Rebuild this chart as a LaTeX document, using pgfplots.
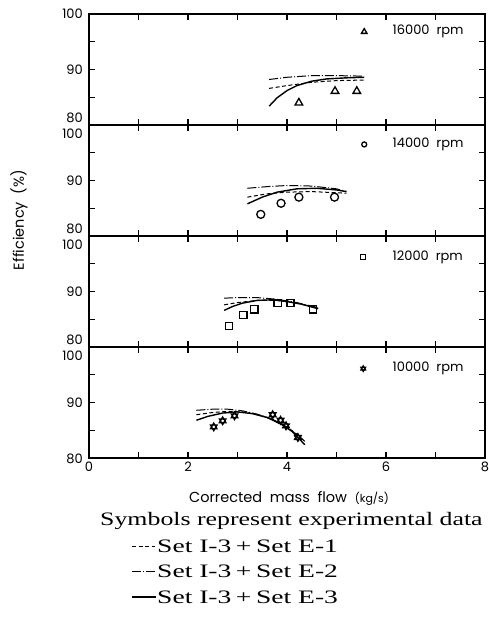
\documentclass[border=0pt]{standalone}
\usepackage{fontspec}
\setmainfont{Liberation Serif}
\newfontfamily\axfont{Poppins}
\usepackage{graphicx}
\usepackage{pgfplots}
\pgfplotsset{compat=1.18}
\pgfplotsset{
  panel/.style={
    scale only axis, width=396pt, height=111pt, anchor=north west,
    xmin=0, xmax=8, ymin=80, ymax=100,
    line width=1.8pt,
    axis line style={line width=1.8pt},
    xtick={0,2,4,6,8}, minor xtick={1,3,5,7},
    ytick={80,90,100}, minor ytick={85,95},
    tick style={line width=1.1pt, black},
    major tick length=6pt, minor tick length=6pt, tick align=inside,
    tick label style={font=\axfont\fontsize{13}{13}\selectfont},
    /pgf/number format/assume math mode=true,
    yticklabel style={anchor=base east, yshift=-4.6pt, xshift=-2pt},
    clip=false,
  },
}
\tikzset{
  sE1/.style={black, line width=1pt, dash pattern=on 4pt off 2.5pt},
  sE2/.style={black, line width=1pt, dash pattern=on 9pt off 2pt on 1pt off 2pt},
  sE3/.style={black, line width=1.4pt},
  rpm/.style={anchor=west, font=\axfont\fontsize{13}{13}\selectfont},
  mk/.style={line width=1.3pt, solid},
}
\begin{document}
\begin{tikzpicture}
\path[use as bounding box] (0,0) rectangle (489pt,-633pt);

% ---------- 16000 rpm ----------
\begin{axis}[panel, at={(89pt,-14pt)}, xticklabels={},
  yticklabels={\raisebox{7.5pt}{80},90,100}]
\addplot[sE1] coordinates {(3.64,86.6)(4.0,87.1)(4.5,87.7)(5.0,88.0)(5.56,88.1)};
\addplot[sE2] coordinates {(3.64,88.2)(4.0,88.6)(4.5,88.9)(5.0,88.9)(5.56,88.8)};
\addplot[sE3] coordinates {(3.64,83.4)(3.8,84.9)(4.0,86.2)(4.2,87.1)(4.5,87.9)(4.8,88.3)(5.2,88.5)(5.56,88.6)};
\addplot[only marks, mark=triangle, mark size=4.4pt, mark options={mk}] coordinates {(4.24,84.0)(4.97,86.1)(5.41,86.1)};
\addplot[only marks, mark=triangle, mark size=3.2pt, mark options={mk}] coordinates {(5.56,96.8)};
\node[rpm] at (axis cs:6.05,96.8) {16000\ \ rpm};
\end{axis}

% ---------- 14000 rpm ----------
\begin{axis}[panel, at={(89pt,-125pt)}, xticklabels={},
  yticklabels={\raisebox{7.5pt}{80},90,\raisebox{-8.5pt}{100}}]
\addplot[sE1] coordinates {(3.2,87.0)(3.6,87.6)(4.0,87.9)(4.5,88.0)(5.0,87.8)(5.2,87.7)};
\addplot[sE2] coordinates {(3.2,88.6)(3.6,88.9)(4.0,89.1)(4.5,89.0)(5.0,88.5)(5.2,88.0)};
\addplot[sE3] coordinates {(3.2,85.8)(3.5,87.0)(3.8,87.9)(4.2,88.5)(4.6,88.6)(5.0,88.3)(5.2,88.0)};
\addplot[only marks, mark=o, mark size=4pt, mark options={mk}] coordinates {(3.47,83.9)(3.88,85.9)(4.24,87.0)(4.96,87.0)};
\addplot[only marks, mark=o, mark size=2.5pt, mark options={mk}] coordinates {(5.56,96.5)};
\node[rpm] at (axis cs:6.05,96.5) {14000\ \ rpm};
\end{axis}

% ---------- 12000 rpm ----------
\begin{axis}[panel, at={(89pt,-236pt)}, xticklabels={},
  yticklabels={\raisebox{7.5pt}{80},90,\raisebox{-8.5pt}{100}}]
\addplot[sE1] coordinates {(2.73,87.6)(3.0,88.0)(3.4,88.4)(3.8,88.4)(4.2,87.9)(4.63,87.0)};
\addplot[sE2] coordinates {(2.73,88.8)(3.0,88.9)(3.4,88.9)(3.8,88.6)(4.2,88.0)(4.63,87.1)};
\addplot[sE3] coordinates {(2.73,86.6)(2.9,87.3)(3.1,87.9)(3.4,88.4)(3.7,88.5)(4.0,88.2)(4.3,87.7)(4.63,86.9)};
\addplot[only marks, mark=square, mark size=3.6pt, mark options={mk}] coordinates {(2.83,83.8)(3.12,85.8)(3.34,86.8)(3.81,87.9)(4.07,87.9)(4.53,86.8)};
\addplot[only marks, mark=square, mark size=2.5pt, mark options={mk}] coordinates {(5.54,96.2)};
\node[rpm] at (axis cs:6.05,96.2) {12000\ \ rpm};
\end{axis}

% ---------- 10000 rpm ----------
\begin{axis}[panel, at={(89pt,-347pt)},
  yticklabels={\raisebox{-1pt}{80},90,\raisebox{-8.5pt}{100}}]
\addplot[sE1] coordinates {(2.17,87.8)(2.5,88.2)(2.8,88.4)(3.1,88.3)(3.4,87.8)(3.7,87.0)(4.0,85.6)(4.2,84.3)(4.36,83.0)};
\addplot[sE2] coordinates {(2.17,88.6)(2.5,88.8)(2.8,88.8)(3.1,88.5)(3.4,87.9)(3.7,87.0)(4.0,85.5)(4.2,84.2)(4.36,83.0)};
\addplot[sE3] coordinates {(2.17,86.8)(2.4,87.5)(2.7,88.1)(3.0,88.3)(3.3,88.0)(3.6,87.3)(3.9,86.0)(4.1,84.8)(4.36,82.4)};
\addplot[only marks, mark=triangle, mark size=3.8pt, mark options={mk}] coordinates {(2.52,85.6)(2.70,86.7)(2.94,87.6)(3.71,87.8)(3.87,86.8)(3.98,85.8)(4.22,83.7)};
\addplot[only marks, mark=triangle, mark size=3.8pt, mark options={mk, rotate=180}] coordinates {(2.52,85.6)(2.70,86.7)(2.94,87.6)(3.71,87.8)(3.87,86.8)(3.98,85.8)(4.22,83.7)};
\addplot[only marks, mark=triangle, mark size=2.7pt, mark options={mk}] coordinates {(5.54,96.1)};
\addplot[only marks, mark=triangle, mark size=2.7pt, mark options={mk, rotate=180}] coordinates {(5.54,96.1)};
\node[rpm] at (axis cs:6.05,96.1) {10000\ \ rpm};
\end{axis}

% axis titles
\node[anchor=center, font=\axfont\fontsize{14.5}{14.5}\selectfont] at (289pt,-498pt) {Corrected\ \ mass\ \ flow\ \ {\fontsize{11}{11}\selectfont(kg/s)}};
\node[rotate=90, anchor=center, font=\axfont\fontsize{14.5}{14.5}\selectfont] at (19pt,-220pt) {Efficiency\ \ (\%)};

% caption and line key
\node[anchor=base west, inner sep=0pt] at (100pt,-525pt) {\scalebox{1.36}[1]{\fontsize{19}{19}\selectfont Symbols represent experimental data}};
\draw[sE1] (132pt,-546pt) -- (155pt,-546pt);
\node[anchor=base west, inner sep=0pt] at (157pt,-552pt) {\scalebox{1.45}[1]{\fontsize{19}{19}\selectfont Set I-3\,+\,Set E-1}};
\draw[sE2] (132pt,-571pt) -- (156pt,-571pt);
\node[anchor=base west, inner sep=0pt] at (157pt,-577pt) {\scalebox{1.45}[1]{\fontsize{19}{19}\selectfont Set I-3\,+\,Set E-2}};
\draw[black, line width=1.1pt] (132pt,-597pt) -- (156pt,-597pt);
\node[anchor=base west, inner sep=0pt] at (157pt,-603pt) {\scalebox{1.45}[1]{\fontsize{19}{19}\selectfont Set I-3\,+\,Set E-3}};
\end{tikzpicture}
\end{document}
